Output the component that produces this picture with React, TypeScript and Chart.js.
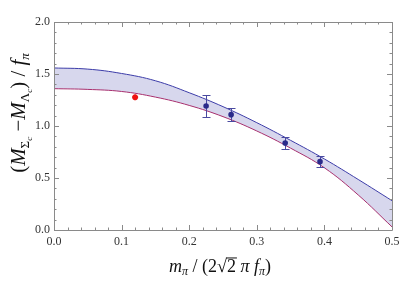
import React, { useEffect, useRef } from "react";
import { Chart, registerables } from "chart.js";

Chart.register(...registerables);

const bandX = [0, 0.05, 0.1, 0.15, 0.2, 0.25, 0.3, 0.35, 0.4, 0.45, 0.5];
const bandUpper = [1.558, 1.547, 1.505, 1.435, 1.32, 1.186, 1.032, 0.862, 0.683, 0.486, 0.282];
const bandLower = [1.359, 1.352, 1.332, 1.278, 1.198, 1.09, 0.952, 0.787, 0.598, 0.337, 0.03];
const latticeX = [0.225, 0.262, 0.342, 0.3935];
const latticeY = [1.192, 1.109, 0.836, 0.657];
const latticeErr = [0.105, 0.065, 0.058, 0.052];
const physX = [0.12];
const physY = [1.276];
const xMajor = [0, 0.1, 0.2, 0.3, 0.4, 0.5];
const yMajor = [0, 0.5, 1.0, 1.5, 2.0];

const FRAME = "#8a8a8a";
const SERIF = "'Liberation Serif', 'DejaVu Serif', serif";

type Piece = { t: string; size: number; italic?: boolean; dy?: number; over?: boolean };

function drawPieces(ctx: CanvasRenderingContext2D, pieces: Piece[], cx: number, cy: number, rot: number) {
  ctx.save();
  ctx.translate(cx, cy);
  ctx.rotate(rot);
  let total = 0;
  const widths: number[] = [];
  for (const p of pieces) {
    ctx.font = `${p.italic ? "italic " : ""}${p.size}px ${SERIF}`;
    const w = ctx.measureText(p.t).width;
    widths.push(w);
    total += w;
  }
  let x = -total / 2;
  ctx.fillStyle = "#111";
  ctx.strokeStyle = "#111";
  ctx.textBaseline = "alphabetic";
  ctx.textAlign = "left";
  pieces.forEach((p, i) => {
    ctx.font = `${p.italic ? "italic " : ""}${p.size}px ${SERIF}`;
    const y = 6 + (p.dy || 0);
    ctx.fillText(p.t, x, y);
    if (p.over) {
      ctx.lineWidth = 1;
      ctx.beginPath();
      ctx.moveTo(x - 1, y - p.size * 0.78);
      ctx.lineTo(x + widths[i] + 1, y - p.size * 0.78);
      ctx.stroke();
    }
    x += widths[i];
  });
  ctx.restore();
}

const framePlugin = {
  id: "frameTicks",
  beforeDatasetDraw(chart: any, args: any) {
    if (args.index !== 2) return;
    const { ctx, scales } = chart;
    const xs = scales.x;
    const ys = scales.y;
    ctx.save();
    ctx.strokeStyle = "#4a4aa0";
    ctx.lineWidth = 1;
    latticeX.forEach((xv, i) => {
      const px = Math.round(xs.getPixelForValue(xv)) + 0.5;
      const top = Math.round(ys.getPixelForValue(latticeY[i] + latticeErr[i])) + 0.5;
      const bot = Math.round(ys.getPixelForValue(latticeY[i] - latticeErr[i])) + 0.5;
      ctx.beginPath();
      ctx.moveTo(px, top);
      ctx.lineTo(px, bot);
      ctx.moveTo(px - 4, top);
      ctx.lineTo(px + 4, top);
      ctx.moveTo(px - 4, bot);
      ctx.lineTo(px + 4, bot);
      ctx.stroke();
    });
    ctx.restore();
  },
  afterDraw(chart: any) {
    const { ctx, chartArea: a, scales } = chart;
    const xs = scales.x;
    const ys = scales.y;
    ctx.save();
    ctx.strokeStyle = FRAME;
    ctx.lineWidth = 1;
    ctx.beginPath();
    ctx.rect(Math.round(a.left) + 0.5, Math.round(a.top) + 0.5, Math.round(a.right - a.left), Math.round(a.bottom - a.top));
    ctx.stroke();
    ctx.beginPath();
    for (let i = 0; i <= 25; i++) {
      const v = i * 0.02;
      const len = i % 5 === 0 ? 5 : 2.5;
      const px = Math.round(xs.getPixelForValue(v)) + 0.5;
      ctx.moveTo(px, a.bottom);
      ctx.lineTo(px, a.bottom - len);
      ctx.moveTo(px, a.top);
      ctx.lineTo(px, a.top + len);
    }
    for (let i = 0; i <= 20; i++) {
      const v = i * 0.1;
      const len = i % 5 === 0 ? 5 : 2.5;
      const py = Math.round(ys.getPixelForValue(v)) + 0.5;
      ctx.moveTo(a.left, py);
      ctx.lineTo(a.left + len, py);
      ctx.moveTo(a.right, py);
      ctx.lineTo(a.right - len, py);
    }
    ctx.stroke();
    ctx.restore();

    const yPieces: Piece[] = [
      { t: "(", size: 21 },
      { t: "M", size: 21, italic: true },
      { t: "Σ", size: 13, dy: 4 },
      { t: "c", size: 9, italic: true, dy: 7 },
      { t: " −", size: 21 },
      { t: "M", size: 21, italic: true },
      { t: "Λ", size: 13, dy: 4 },
      { t: "c", size: 9, italic: true, dy: 7 },
      { t: ") / ", size: 21 },
      { t: "f", size: 21, italic: true },
      { t: "π", size: 13, italic: true, dy: 4 },
    ];
    drawPieces(ctx, yPieces, 19, (a.top + a.bottom) / 2 - 13, -Math.PI / 2);
    const xPieces: Piece[] = [
      { t: "m", size: 18, italic: true },
      { t: "π", size: 12, italic: true, dy: 3 },
      { t: " / (2", size: 18 },
      { t: "√", size: 18 },
      { t: "2", size: 18, over: true },
      { t: " π ", size: 18, italic: true },
      { t: "f", size: 18, italic: true },
      { t: "π", size: 12, italic: true, dy: 3 },
      { t: ")", size: 18 },
    ];
    drawPieces(ctx, xPieces, (a.left + a.right) / 2 - 3, 266, 0);
  },
};

export default function App() {
  const ref = useRef<HTMLCanvasElement>(null);
  useEffect(() => {
    if (!ref.current) return;
    const chart = new Chart(ref.current, {
      type: "line",
      data: {
        datasets: [
          {
            label: "upper",
            data: bandX.map((x, i) => ({ x, y: bandUpper[i] })),
            borderColor: "#3c3ca8",
            borderWidth: 1,
            backgroundColor: "rgba(205,205,232,0.8)",
            fill: "+1",
            pointRadius: 0,
            tension: 0.4,
            order: 2,
          },
          {
            label: "lower",
            data: bandX.map((x, i) => ({ x, y: bandLower[i] })),
            borderColor: "#a8306e",
            borderWidth: 1,
            fill: false,
            pointRadius: 0,
            tension: 0.4,
            order: 1,
          },
          {
            label: "lattice",
            type: "scatter",
            data: latticeX.map((x, i) => ({ x, y: latticeY[i] })),
            backgroundColor: "#2a2a8a",
            borderColor: "#2a2a8a",
            borderWidth: 0,
            pointRadius: 2.8,
            showLine: false,
            order: -1,
          },
          {
            label: "physical",
            type: "scatter",
            data: physX.map((x, i) => ({ x, y: physY[i] })),
            pointStyle: "star",
            backgroundColor: "#ee1111",
            borderColor: "#ee1111",
            borderWidth: 2,
            pointRadius: 3,
            showLine: false,
            order: -2,
          },
        ],
      } as any,
      options: {
        animation: false,
        responsive: false,
        maintainAspectRatio: false,
        layout: { padding: { top: 22, right: 23, left: 0, bottom: 0 } },
        plugins: { legend: { display: false }, tooltip: { enabled: false } },
        scales: {
          x: {
            type: "linear",
            min: 0,
            max: 0.5,
            grid: { display: false, drawTicks: false },
            border: { display: false },
            afterBuildTicks: (s: any) => {
              s.ticks = xMajor.map((v) => ({ value: v }));
            },
            afterFit: (s: any) => {
              s.height = 58;
            },
            ticks: {
              padding: 5,
              color: "#333",
              font: { family: SERIF, size: 12 },
              maxRotation: 0,
              callback: (v: any) => Number(v).toFixed(1),
            },
          },
          y: {
            type: "linear",
            min: 0,
            max: 2,
            grid: { display: false, drawTicks: false },
            border: { display: false },
            afterBuildTicks: (s: any) => {
              s.ticks = yMajor.map((v) => ({ value: v }));
            },
            afterFit: (s: any) => {
              s.width = 54;
            },
            ticks: {
              padding: 4,
              color: "#333",
              font: { family: SERIF, size: 12 },
              callback: (v: any) => Number(v).toFixed(1),
            },
          },
        },
      } as any,
      plugins: [framePlugin],
    });
    return () => chart.destroy();
  }, []);
  return (
    <div style={{ position: "fixed", left: 0, top: 0, width: 415, height: 288, background: "#fff" }}>
      <canvas ref={ref} width={415} height={288} style={{ width: 415, height: 288 }} />
    </div>
  );
}
